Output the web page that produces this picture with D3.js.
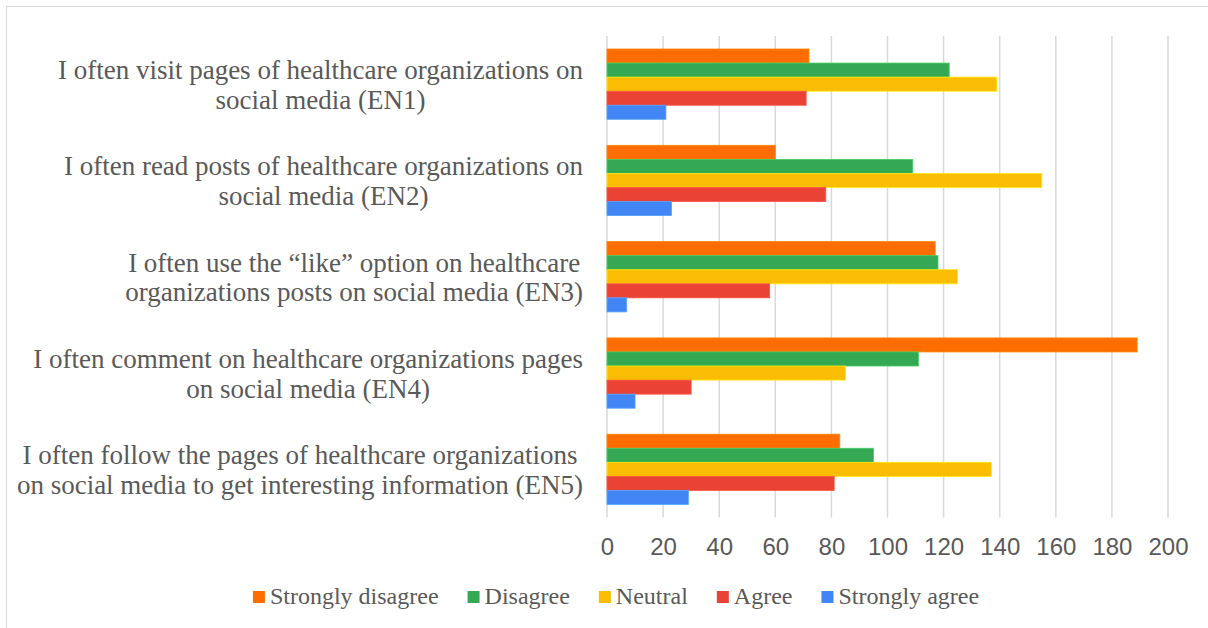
<!DOCTYPE html>
<html>
<head>
<meta charset="utf-8">
<script src="https://cdn.jsdelivr.net/npm/d3@7"></script>
<style>
  html, body { margin: 0; padding: 0; background: #fff; }
  svg { display: block; }
</style>
</head>
<body>
<svg id="chart" width="1208" height="628"></svg>
<script>
// Survey items (statements), top to bottom
const categories = [
  ["I often visit pages of healthcare organizations on", "social media (EN1)"],
  ["I often read posts of healthcare organizations on", "social media (EN2)"],
  ["I often use the \u201Clike\u201D option on healthcare", "organizations posts on social media (EN3)"],
  ["I often comment on healthcare organizations pages", "on social media (EN4)"],
  ["I often follow the pages of healthcare organizations", "on social media to get interesting information (EN5)"]
];
const categoryKeys = ["EN1", "EN2", "EN3", "EN4", "EN5"];

// Response options, in bar order within each group
const seriesNames = ["Strongly disagree", "Disagree", "Neutral", "Agree", "Strongly agree"];

// Counts per response option, one value per item (EN1..EN5)
const stronglyDisagree = [72, 60, 117, 189, 83];
const disagree         = [122, 109, 118, 111, 95];
const neutral          = [139, 155, 125, 85, 137];
const agree            = [71, 78, 58, 30, 81];
const stronglyAgree    = [21, 23, 7, 10, 29];

const xTicks = [0, 20, 40, 60, 80, 100, 120, 140, 160, 180, 200];

const seriesValues = [stronglyDisagree, disagree, neutral, agree, stronglyAgree];
const colors = ["#FF6D01", "#34A853", "#FBBC04", "#EA4335", "#4285F4"];

const svg = d3.select("#chart");
const textColor = "#595959";
const serif = "'Liberation Serif', 'Times New Roman', serif";
const sans = "'Liberation Sans', Arial, sans-serif";

// Outer frame
svg.append("rect")
  .attr("x", 6.5).attr("y", 6.5)
  .attr("width", 1240).attr("height", 660)
  .attr("fill", "none").attr("stroke", "#d9d9d9").attr("stroke-width", 1);

const x = d3.scaleLinear().domain([0, 200]).range([607, 1168]);
const y = d3.scaleBand().domain(categoryKeys).range([36, 517.5]).paddingInner(0.27).paddingOuter(0.135);
const ySub = d3.scaleBand().domain(seriesNames).range([0, y.bandwidth()]);

// Vertical gridlines
svg.append("g")
  .selectAll("line")
  .data(xTicks)
  .join("line")
  .attr("x1", d => x(d)).attr("x2", d => x(d))
  .attr("y1", 36).attr("y2", 517.5)
  .attr("stroke", "#d9d9d9").attr("stroke-width", 1.5);

// Bars
const rows = categoryKeys.map((k, i) => ({
  key: k,
  values: seriesNames.map((s, j) => ({ series: s, value: seriesValues[j][i], color: colors[j] }))
}));

svg.append("g")
  .selectAll("g")
  .data(rows)
  .join("g")
  .attr("transform", d => `translate(0,${y(d.key)})`)
  .selectAll("rect")
  .data(d => d.values)
  .join("rect")
  .attr("x", x(0))
  .attr("y", d => ySub(d.series))
  .attr("width", d => x(d.value) - x(0))
  .attr("height", ySub.bandwidth())
  .attr("fill", d => d.color)
  .attr("stroke", d => d3.color(d.color).brighter(0.6))
  .attr("stroke-width", 0.8);

// X axis tick labels
const xAxis = d3.axisBottom(x).tickValues(xTicks).tickSize(0).tickPadding(0);
const axisG = svg.append("g").attr("transform", "translate(0,530)").call(xAxis);
axisG.select(".domain").remove();
axisG.selectAll("text")
  .attr("dy", null).attr("y", 0)
  .attr("dominant-baseline", "hanging")
  .attr("font-family", sans).attr("font-size", 24)
  .attr("fill", textColor)
  .attr("transform", "translate(0,7.5)");

// Category labels (two lines, centred on each other, right-aligned block)
const labelRight = 583;
const labelG = svg.append("g");
categories.forEach((lines, i) => {
  const cy = y(categoryKeys[i]) + y.bandwidth() / 2;
  const t = labelG.append("text")
    .attr("font-family", serif).attr("font-size", 27)
    .attr("fill", textColor).attr("text-anchor", "middle");
  const spans = lines.map((ln, k) => t.append("tspan").attr("y", cy - 5 + k * 29.5).text(ln));
  const maxW = d3.max(spans, s => s.node().getComputedTextLength());
  spans.forEach(s => s.attr("x", labelRight - maxW / 2));
});

// Legend
const legend = svg.append("g");
let lx = 0;
seriesNames.forEach((name, j) => {
  const g = legend.append("g").attr("transform", `translate(${lx},0)`);
  g.append("rect").attr("x", 0).attr("y", 591).attr("width", 12).attr("height", 12).attr("fill", colors[j]);
  const t = g.append("text").attr("x", 17).attr("y", 604)
    .attr("font-family", serif).attr("font-size", 24).attr("fill", textColor).text(name);
  lx += 17 + t.node().getComputedTextLength() + 29;
});
const legendW = lx - 29;
legend.attr("transform", `translate(${616 - legendW / 2},0)`);
</script>
</body>
</html>
